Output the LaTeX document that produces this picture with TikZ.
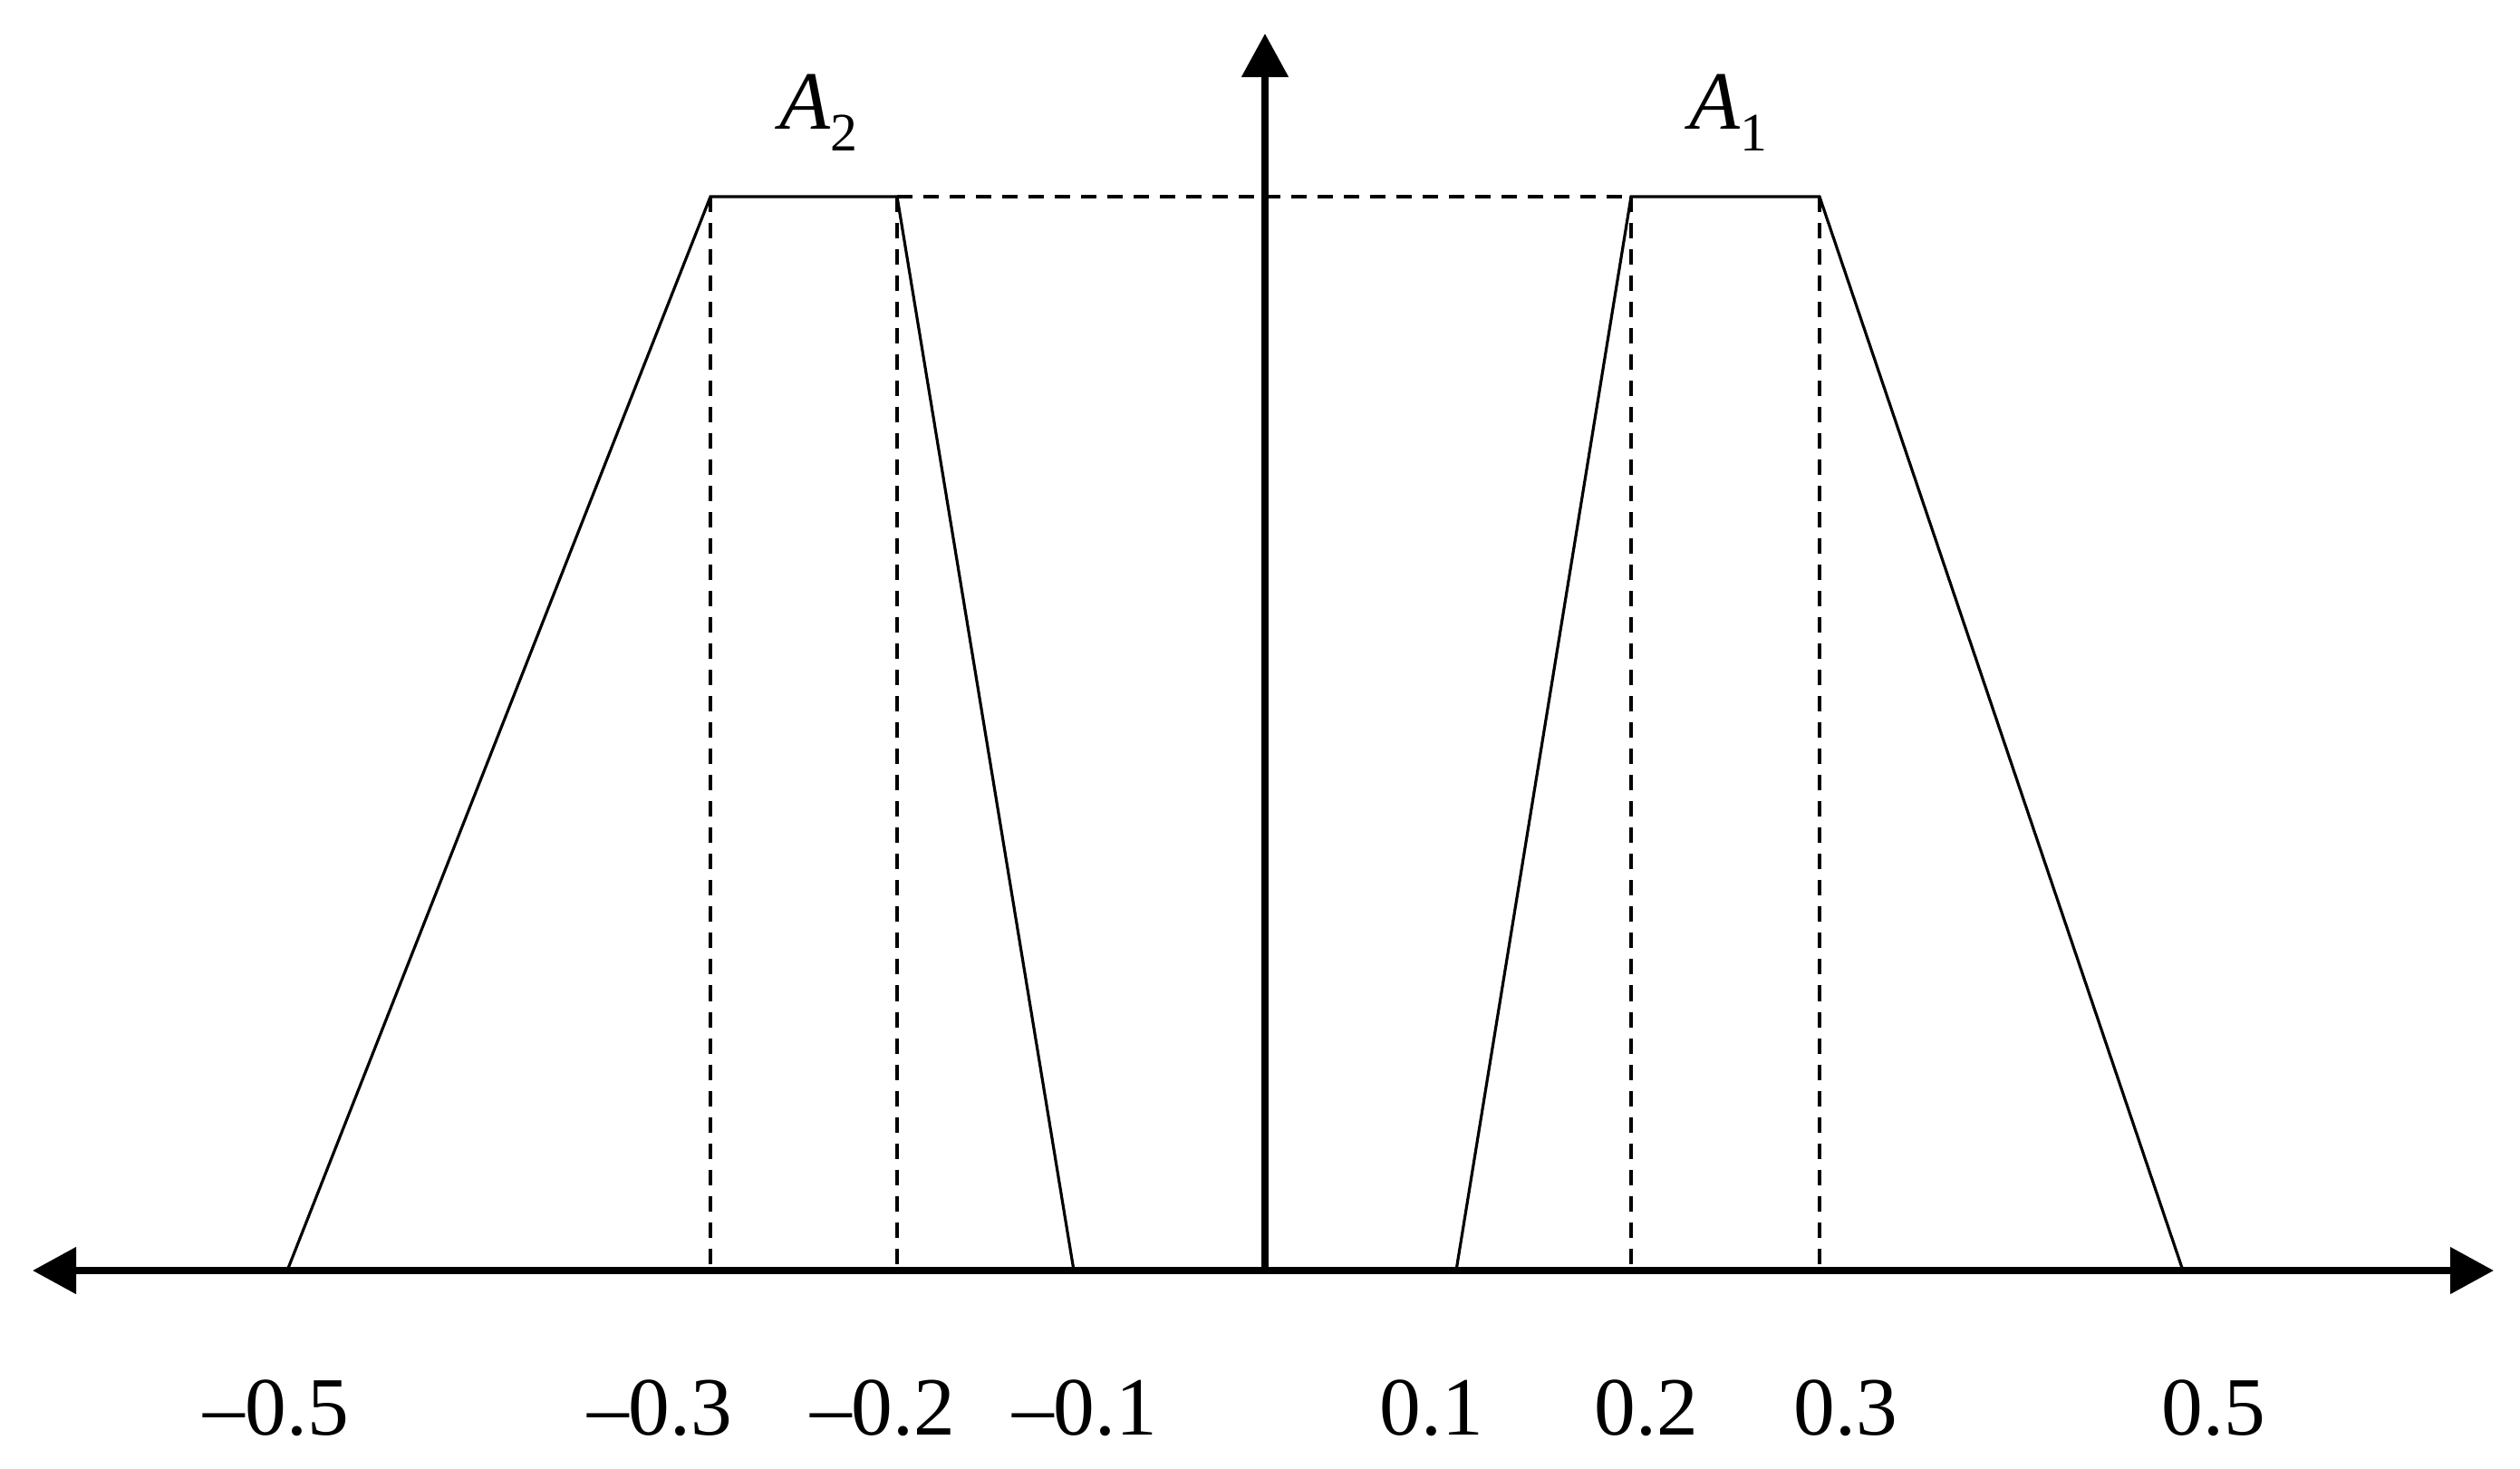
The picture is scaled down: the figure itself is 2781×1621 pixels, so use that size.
\documentclass[tikz,border=0pt]{standalone}
\usepackage{fontspec}
\setmainfont{Liberation Serif}
\usetikzlibrary{arrows.meta}
\begin{document}
\begin{tikzpicture}[x=0.01cm,y=-0.01cm,
  axisline/.style={line width=0.08cm,-{Triangle[length=0.48cm,width=0.5cm]}},
  thinline/.style={line width=0.9pt,line join=miter},
  dashline/.style={line width=0.9pt,dash pattern=on 0.17cm off 0.12cm},
  ticklabel/.style={anchor=base,inner sep=0pt,font=\fontsize{26}{30}\selectfont},
  setlabel/.style={anchor=base west,inner sep=0pt,font=\fontsize{26}{30}\selectfont}]
\useasboundingbox (0,0) rectangle (2781,1621);
% key points
\coordinate (L) at (36,1402);
\coordinate (R) at (2752,1402);
\coordinate (O) at (1396,1402);
\coordinate (T) at (1396,37);
\coordinate (a1) at (317,1402);
\coordinate (a2) at (784,217);
\coordinate (a3) at (990,217);
\coordinate (a4) at (1185,1402);
\coordinate (b1) at (1607,1402);
\coordinate (b2) at (1800,217);
\coordinate (b3) at (2008,217);
\coordinate (b4) at (2409,1402);
\coordinate (a2b) at (784,1402);
\coordinate (a3b) at (990,1402);
\coordinate (b2b) at (1800,1402);
\coordinate (b3b) at (2008,1402);
% dashed guides
\draw[dashline] (a2) -- (a2b);
\draw[dashline] (a3) -- (a3b);
\draw[dashline] (b2) -- (b2b);
\draw[dashline] (b3) -- (b3b);
\draw[dashline] (a3) -- (b2);
% trapezoids
\draw[thinline] (a1) -- (a2) -- (a3) -- (a4);
\draw[thinline] (b1) -- (b2) -- (b3) -- (b4);
% axes
\draw[axisline] (O) -- (L);
\draw[axisline] (O) -- (R);
\draw[axisline] (O) -- (T);
% tick labels
\node[ticklabel] (t1) at (305,1583) {–0.5};
\node[ticklabel] (t2) at (728,1583) {–0.3};
\node[ticklabel] (t3) at (974,1583) {–0.2};
\node[ticklabel] (t4) at (1197,1583) {–0.1};
\node[ticklabel] (t5) at (1580,1583) {0.1};
\node[ticklabel] (t6) at (1817,1583) {0.2};
\node[ticklabel] (t7) at (2037,1583) {0.3};
\node[ticklabel] (t8) at (2443,1583) {0.5};
% set labels
\node[setlabel] (A2) at (860,142) {\textit{A}\raisebox{-0.27em}{\fontsize{17}{20}\selectfont 2}};
\node[setlabel] (A1) at (1864,142) {\textit{A}\raisebox{-0.27em}{\fontsize{17}{20}\selectfont 1}};
\end{tikzpicture}
\end{document}
